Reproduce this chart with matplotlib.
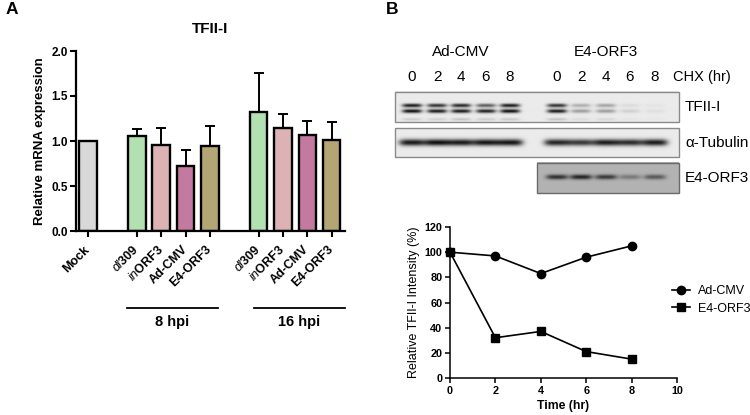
import numpy as np
import matplotlib
matplotlib.use("Agg")
import matplotlib.pyplot as plt
from matplotlib.patches import Rectangle

plt.rcParams['font.family'] = ['Liberation Sans', 'DejaVu Sans']
plt.rcParams['mathtext.fontset'] = 'custom'
plt.rcParams['mathtext.it'] = 'Liberation Sans:italic'
plt.rcParams['mathtext.rm'] = 'Liberation Sans:bold'

# ---- panel A data ----
bar_labels = ['Mock', r'$\mathit{dl}$309', r'$\mathit{in}$ORF3', 'Ad-CMV', 'E4-ORF3',
              r'$\mathit{dl}$309', r'$\mathit{in}$ORF3', 'Ad-CMV', 'E4-ORF3']
bar_pos = [0, 2, 3, 4, 5, 7, 8, 9, 10]
bar_vals = [1.0, 1.055, 0.955, 0.72, 0.94, 1.32, 1.14, 1.07, 1.01]
bar_err = [0.0, 0.075, 0.185, 0.18, 0.23, 0.43, 0.16, 0.15, 0.20]
bar_cols = ['#d8d8d8', '#b3e0b0', '#dcb2b4', '#c47aa0', '#b4a574',
            '#b3e0b0', '#dcb2b4', '#c47aa0', '#b4a574']
groups = ['8 hpi', '16 hpi']
group_span = [(1.58, 5.33), (6.81, 10.55)]

# ---- panel B data ----
time_hr = [0, 2, 4, 6, 8]
ad_cmv = [100, 97, 83, 96, 105]
e4_orf3 = [100, 32, 37, 21, 15]

lane_x = [412, 437, 461, 486, 510, 557, 581, 606, 630, 655]
lane_lbl = ['0', '2', '4', '6', '8', '0', '2', '4', '6', '8']
tfii_up = [0.95, 0.85, 0.90, 0.65, 0.95, 0.85, 0.28, 0.32, 0.07, 0.03]
tfii_lo = [1.00, 0.95, 0.95, 0.92, 1.00, 0.95, 0.35, 0.35, 0.12, 0.05]
tfii_faint = [0.14, 0.12, 0.18, 0.14, 0.16, 0.18, 0.07, 0.09, 0.03, 0.02]
tubulin = [0.95, 1.0, 0.95, 0.97, 0.97, 0.90, 0.82, 0.94, 0.87, 0.94]
e4_band = [0.80, 0.88, 0.75, 0.35, 0.55]

W, H = 750, 415
fig = plt.figure(figsize=(7.5, 4.15), dpi=100)


def rect(x0, y0, x1, y1):
    return [x0 / W, 1 - y1 / H, (x1 - x0) / W, (y1 - y0) / H]


fig.text(6 / W, 1 - 10 / H, 'A', fontsize=12.5, fontweight='bold', va='center')
fig.text(386 / W, 1 - 10 / H, 'B', fontsize=12.5, fontweight='bold', va='center')

# ---------- panel A ----------
ax = fig.add_axes(rect(76, 51, 345, 231))
ax.bar(bar_pos, bar_vals, width=0.72, color=bar_cols, edgecolor='black', linewidth=1.7,
       yerr=[np.zeros(len(bar_err)), bar_err], capsize=3.4,
       error_kw=dict(elinewidth=1.4, capthick=1.4, ecolor='black'), zorder=2)
ax.set_xlim(-0.5, 10.55)
ax.set_ylim(0, 2.0)
ax.set_yticks([0, 0.5, 1.0, 1.5, 2.0])
ax.set_yticklabels(['0.0', '0.5', '1.0', '1.5', '2.0'], fontweight='bold', fontsize=8.5)
ax.set_xticks(bar_pos)
ax.set_xticklabels(bar_labels, rotation=45, ha='right', va='center', rotation_mode='anchor',
                   fontweight='bold', fontsize=9)
ax.tick_params(axis='x', pad=8, length=4, width=1.5)
ax.tick_params(axis='y', length=4, width=1.5, pad=2)
for s in ['top', 'right']:
    ax.spines[s].set_visible(False)
for s in ['left', 'bottom']:
    ax.spines[s].set_linewidth(1.6)
ax.set_ylabel('Relative mRNA expression', fontweight='bold', fontsize=9.5, labelpad=4)
ax.set_title('TFII-I', fontweight='bold', fontsize=11, pad=13)
trans = ax.get_xaxis_transform()
for g, (a, b) in zip(groups, group_span):
    ax.plot([a, b], [-0.428, -0.428], color='black', lw=1.3, transform=trans, clip_on=False)
    ax.text((a + b) / 2, -0.505, g, transform=trans, ha='center', va='center',
            fontweight='bold', fontsize=10.5)

# ---------- panel B blots ----------
bx = fig.add_axes(rect(380, 30, 750, 200))
bx.set_xlim(380, 750)
bx.set_ylim(200, 30)
bx.axis('off')


def blot(x0, y0, x1, y1, bg, bands, lanes, half_w, edge='#8a8a8a'):
    xs = np.linspace(x0, x1, int((x1 - x0) * 3))
    ys = np.linspace(y0, y1, int((y1 - y0) * 3))
    X, Y = np.meshgrid(xs, ys)
    dark = np.zeros_like(X)
    for yc, sig, amps in bands:
        for cx, a in zip(lanes, amps):
            dark += a * np.exp(-np.abs((X - cx) / half_w) ** 4) * np.exp(-((Y - yc) / sig) ** 2)
    dark = np.clip(dark, 0, 1)
    img = bg - dark * (bg - 0.06)
    bx.imshow(img, cmap='gray', vmin=0, vmax=1, extent=[x0, x1, y1, y0],
              aspect='auto', interpolation='bilinear', zorder=1)
    bx.add_patch(Rectangle((x0, y0), x1 - x0, y1 - y0, fill=False, edgecolor=edge,
                           linewidth=1.0, zorder=2))


blot(395, 92, 679, 122, 0.92,
     [(106.0, 1.8, tfii_up), (111.5, 1.9, tfii_lo), (119.5, 1.3, tfii_faint)], lane_x, 10)
blot(395, 128, 679, 157, 0.92, [(142.5, 3.4, tubulin)], lane_x, 13)
blot(537, 163, 679, 193, 0.70, [(177.5, 2.4, e4_band)], lane_x[5:], 11, edge='#6a6a6a')

bx.text(461, 52, 'Ad-CMV', ha='center', va='center', fontsize=11)
bx.text(606, 52, 'E4-ORF3', ha='center', va='center', fontsize=11)
for x, t in zip(lane_x, lane_lbl):
    bx.text(x, 77, t, ha='center', va='center', fontsize=11)
bx.text(673, 77, 'CHX (hr)', ha='left', va='center', fontsize=10.5)
bx.text(685, 107, 'TFII-I', ha='left', va='center', fontsize=11)
bx.text(685, 143, 'α-Tubulin', ha='left', va='center', fontsize=11)
bx.text(685, 178, 'E4-ORF3', ha='left', va='center', fontsize=11)

# ---------- panel B line chart ----------
lx = fig.add_axes(rect(450, 227, 677, 378))
lx.plot(time_hr, ad_cmv, '-o', color='black', lw=1.2, ms=6, label='Ad-CMV', clip_on=False)
lx.plot(time_hr, e4_orf3, '-s', color='black', lw=1.2, ms=6, label='E4-ORF3', clip_on=False)
lx.set_xlim(0, 10)
lx.set_ylim(0, 120)
lx.set_xticks(range(0, 11, 2))
lx.set_yticks(range(0, 121, 20))
lx.tick_params(labelsize=7.8, width=1.1, length=3.5, pad=2)
for lab in lx.get_xticklabels() + lx.get_yticklabels():
    lab.set_fontweight('bold')
for s in ['top', 'right']:
    lx.spines[s].set_visible(False)
for s in ['left', 'bottom']:
    lx.spines[s].set_linewidth(1.1)
lx.set_xlabel('Time (hr)', fontweight='bold', fontsize=8.8, labelpad=3)
lx.set_ylabel('Relative TFII-I Intensity (%)', fontsize=9, labelpad=3)
lx.legend(loc='upper left', bbox_to_anchor=(672 / W, 1 - 285 / H), bbox_transform=fig.transFigure,
          frameon=False, fontsize=9, handlelength=1.4, handletextpad=0.7, labelspacing=0.45,
          borderpad=0, borderaxespad=0)

fig.savefig('out.png', dpi=100)
